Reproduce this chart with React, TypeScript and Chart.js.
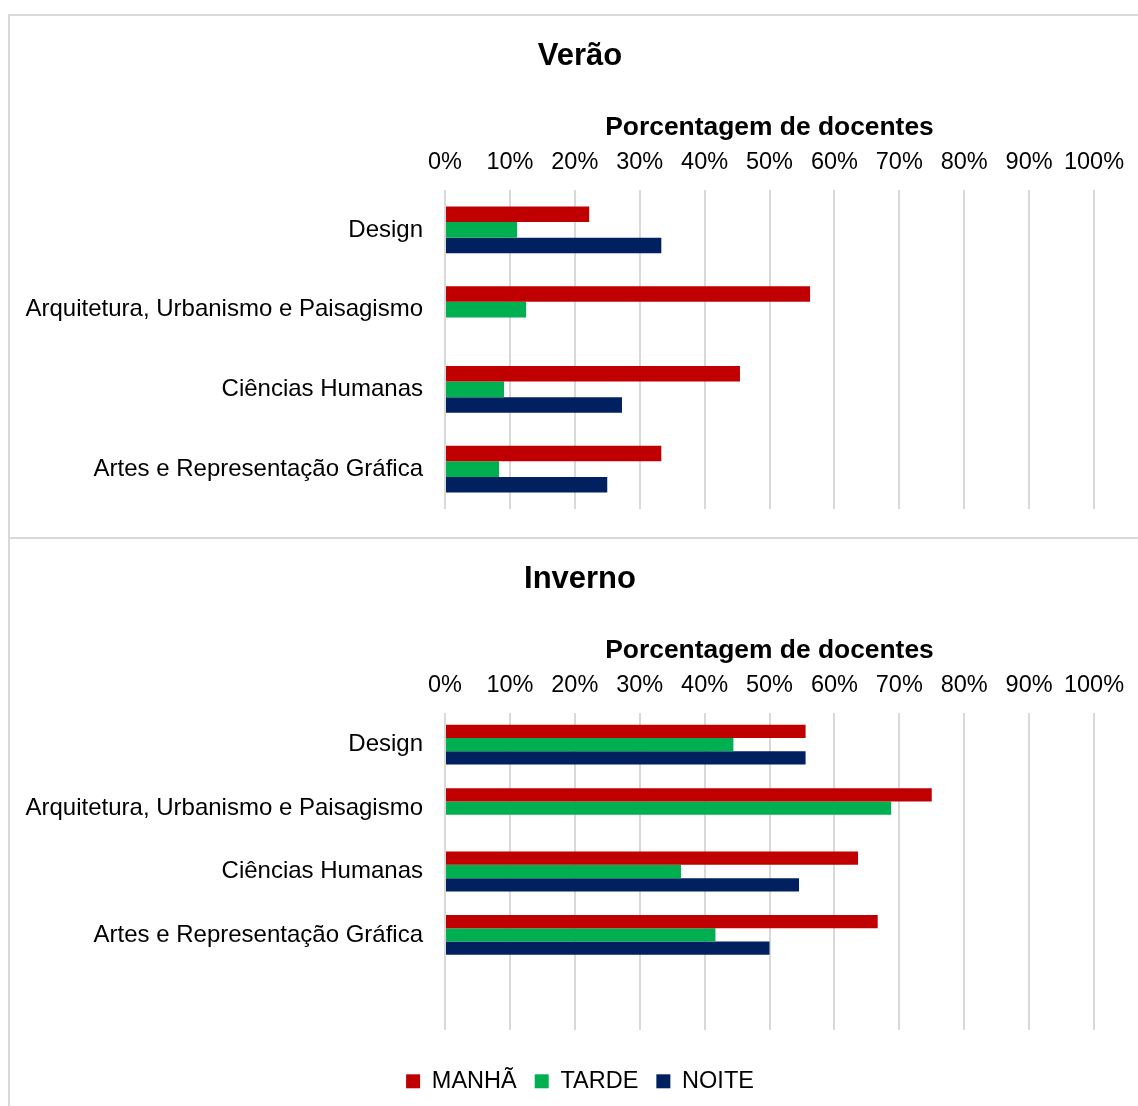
import { useEffect, useRef } from 'react';
import { Chart, registerables } from 'chart.js';

Chart.register(...registerables);

const FONT = "'Liberation Sans', Arial, Helvetica, sans-serif";
Chart.defaults.font.family = FONT;

// Categories (departments) and series (shifts)
const categories = [
  'Design',
  'Arquitetura, Urbanismo e Paisagismo',
  'Ciências Humanas',
  'Artes e Representação Gráfica',
];
const invernoCategories = [...categories, ''];
const seriesNames = ['MANHÃ', 'TARDE', 'NOITE'];
const seriesColors = ['#C00000', '#00B050', '#002060'];

// Percentage of faculty per shift — summer
const veraoManha = [22.22, 56.25, 45.45, 33.33];
const veraoTarde = [11.11, 12.5, 9.09, 8.33];
const veraoNoite = [33.33, 0, 27.27, 25];

// Percentage of faculty per shift — winter
const invernoManha = [55.56, 75, 63.64, 66.67];
const invernoTarde = [44.44, 68.75, 36.36, 41.67];
const invernoNoite = [55.56, 0, 54.55, 50];

// Horizontal axis ticks
const percentTicks = [0, 10, 20, 30, 40, 50, 60, 70, 80, 90, 100];
const percentLabels = ['0%', '10%', '20%', '30%', '40%', '50%', '60%', '70%', '80%', '90%', '100%'];

// The canvas runs a little past the visible frame so that the centred
// title and legend sit over the middle of the panel.
const CANVAS_W = 1140;
const Y_AXIS_W = 435;
const X_AXIS_H = 115.4;
const X_AXIS_RIGHT_GAP = 56;

type PanelProps = {
  title: string;
  labels: string[];
  values: number[][];
  height: number;
  categoryPercentage: number;
  showLegend: boolean;
  padBottom: number;
};

function Panel({ title, labels, values, height, categoryPercentage, showLegend, padBottom }: PanelProps) {
  const ref = useRef<HTMLCanvasElement | null>(null);

  useEffect(() => {
    if (!ref.current) return;
    const chart = new Chart(ref.current, {
      type: 'bar',
      data: {
        labels,
        datasets: seriesNames.map((name, i) => ({
          label: name,
          data: values[i],
          backgroundColor: seriesColors[i],
          borderWidth: 0,
          categoryPercentage,
          barPercentage: 1,
        })),
      },
      options: {
        animation: false,
        responsive: false,
        indexAxis: 'y',
        events: [],
        layout: { padding: { left: 0, right: 0, top: 0, bottom: padBottom } },
        scales: {
          x: {
            position: 'top',
            min: 0,
            max: 100,
            afterBuildTicks: (s: any) => {
              s.ticks = percentTicks.map((v) => ({ value: v }));
            },
            afterFit: (s: any) => {
              s.height = X_AXIS_H;
              s.paddingLeft = 0;
              s.paddingRight = X_AXIS_RIGHT_GAP;
            },
            grid: { color: '#d9d9d9', lineWidth: 2, drawTicks: false },
            border: { display: false },
            ticks: {
              padding: 12.9,
              color: '#000000',
              font: { size: 23.5 },
              maxRotation: 0,
              minRotation: 0,
              autoSkip: false,
              callback: (v: any) => percentLabels[percentTicks.indexOf(Number(v))],
            },
            title: {
              display: true,
              text: 'Porcentagem de docentes',
              color: '#000000',
              font: { size: 26.4, weight: 'bold' },
              padding: { top: 37.06, bottom: 0 },
            },
          },
          y: {
            afterFit: (s: any) => {
              s.width = Y_AXIS_W;
              s.paddingTop = 0;
              s.paddingBottom = 0;
            },
            grid: { display: false, drawTicks: false },
            border: { display: false },
            ticks: { padding: 22, color: '#000000', font: { size: 24 }, autoSkip: false },
          },
        },
        plugins: {
          title: {
            display: true,
            text: title,
            color: '#000000',
            font: { size: 31, weight: 'bold' },
            padding: { top: 21.4, bottom: 0 },
          },
          legend: showLegend
            ? {
                display: true,
                position: 'bottom',
                align: 'center',
                labels: {
                  boxWidth: 14,
                  boxHeight: 14,
                  padding: 18,
                  color: '#000000',
                  font: { size: 23.5 },
                },
                title: { display: true, text: '', font: { size: 1 }, padding: { top: 0, bottom: 20.35 } },
              }
            : { display: false },
          tooltip: { enabled: false },
        },
      } as any,
    });
    return () => chart.destroy();
  }, []);

  return <canvas ref={ref} width={CANVAS_W} height={height} style={{ display: 'block' }} />;
}

export default function App() {
  return (
    <div
      style={{
        position: 'absolute',
        left: 0,
        top: 0,
        width: 1138,
        height: 1106,
        overflow: 'hidden',
        background: '#ffffff',
      }}
    >
      <div
        style={{
          position: 'absolute',
          left: 8,
          top: 14,
          width: 1200,
          height: 525,
          boxSizing: 'border-box',
          border: '2px solid #d9d9d9',
        }}
      />
      <div
        style={{
          position: 'absolute',
          left: 8,
          top: 537,
          width: 1200,
          height: 700,
          boxSizing: 'border-box',
          border: '2px solid #d9d9d9',
        }}
      />
      <div style={{ position: 'absolute', left: 10, top: 16 }}>
        <Panel
          title="Verão"
          labels={categories}
          values={[veraoManha, veraoTarde, veraoNoite]}
          height={521}
          categoryPercentage={0.584}
          showLegend={false}
          padBottom={28}
        />
      </div>
      <div style={{ position: 'absolute', left: 10, top: 539 }}>
        <Panel
          title="Inverno"
          labels={invernoCategories}
          values={[invernoManha, invernoTarde, invernoNoite]}
          height={567}
          categoryPercentage={0.628}
          showLegend={true}
          padBottom={2.95}
        />
      </div>
    </div>
  );
}
